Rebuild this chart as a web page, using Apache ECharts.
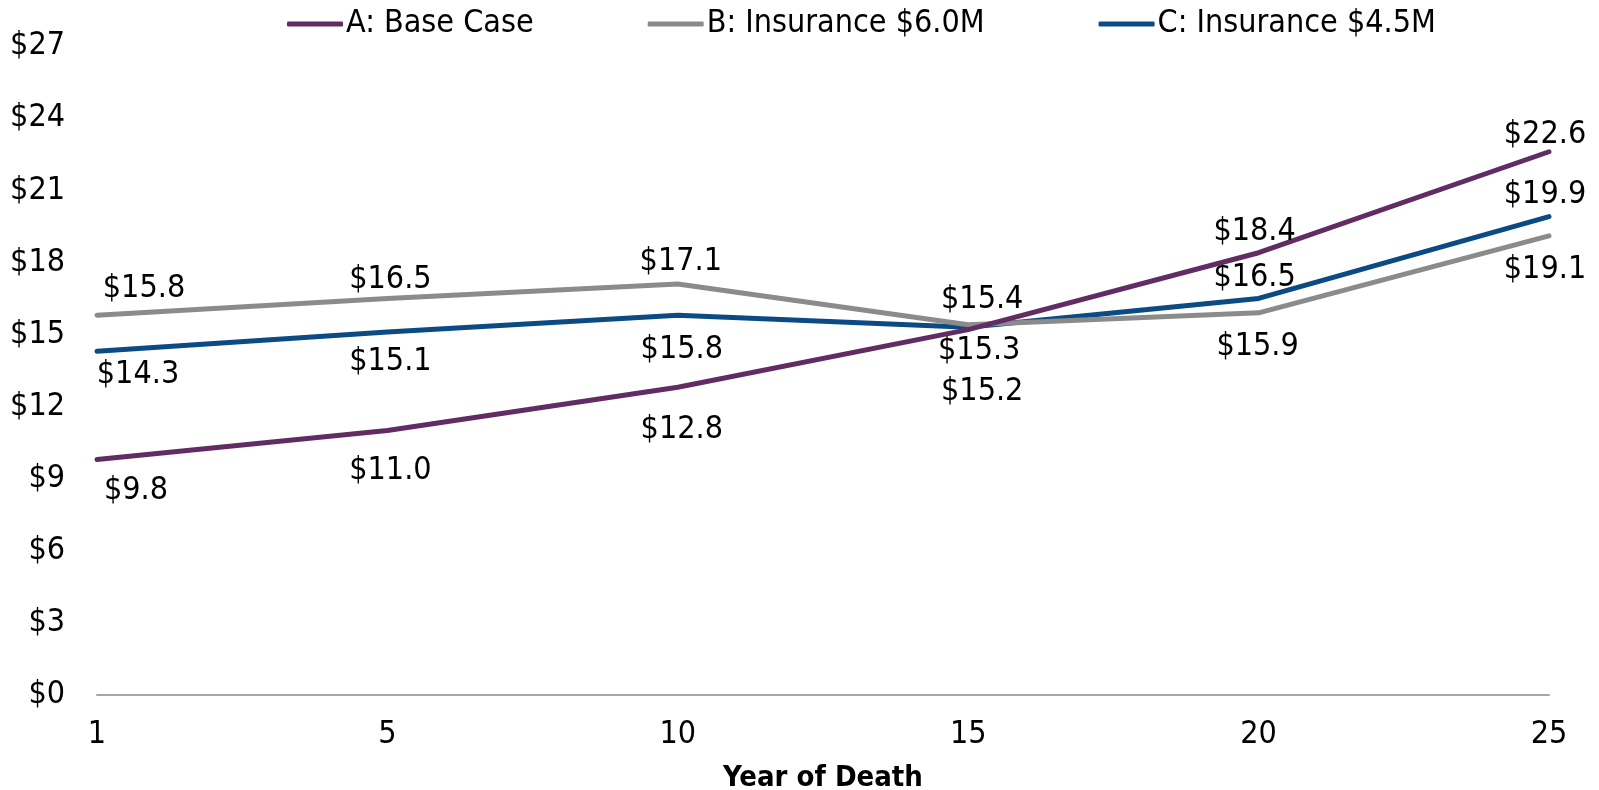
<!DOCTYPE html>
<html>
<head>
<meta charset="utf-8">
<title>Year of Death</title>
<script src="https://cdn.jsdelivr.net/npm/echarts@6/dist/echarts.min.js"></script>
<style>
  html, body { margin: 0; padding: 0; background: #fff; }
  #chart { width: 1599px; height: 790px; }
</style>
</head>
<body>
<div id="chart"></div>
<script>
// data
const years = ['1', '5', '10', '15', '20', '25']
const seriesNames = ['A: Base Case', 'B: Insurance $6.0M', 'C: Insurance $4.5M']
const baseCase = [9.8, 11.0, 12.8, 15.2, 18.4, 22.6]
const insurance60 = [15.8, 16.5, 17.1, 15.4, 15.9, 19.1]
const insurance45 = [14.3, 15.1, 15.8, 15.3, 16.5, 19.9]
const yTicks = { min: 0, max: 27, step: 3 }

// where each value label sits relative to its point [dx, dy]
const labelNudge = [
  [[39, 31], [3, 40], [4, 42], [14, 62], [-4, -21], [-4, -17]],
  [[47, -27], [3, -19], [3, -22], [14, -25], [-1, 34], [-4, 34]],
  [[41, 23], [3, 30], [4, 34], [11, 23], [-4, -21], [-4, -22]]
]
const colors = ['#612c63', '#8b8b8b', '#0b4a83']
const font = '"DejaVu Sans Condensed", "Liberation Sans", sans-serif'

const chart = echarts.init(document.getElementById('chart'))

function makeSeries(name, values, idx) {
  return {
    name: name,
    type: 'line',
    data: values.map((v, i) => ({
      value: v,
      label: { offset: labelNudge[idx][i] }
    })),
    symbol: 'circle',
    symbolSize: 1,
    showSymbol: true,
    lineStyle: { width: 5, color: colors[idx], cap: 'round' },
    itemStyle: { color: colors[idx] },
    label: {
      show: true,
      position: 'inside',
      color: '#000',
      fontFamily: font,
      fontSize: 32,
      formatter: p => '$' + p.value.toFixed(1)
    },
    emphasis: { disabled: true },
    z: 3 - idx
  }
}

const option = {
  animation: false,
  color: colors,
  textStyle: { fontFamily: font },
  legend: {
    top: 3,
    left: 282,
    itemWidth: 56,
    itemHeight: 5,
    itemGap: 114,
    icon: 'roundRect',
    textStyle: { fontSize: 32, color: '#000', fontFamily: font, padding: [0, 0, 0, -2] },
    data: seriesNames
  },
  grid: { left: 97, right: 50, top: 46, bottom: 95, containLabel: false, outerBoundsMode: 'none' },
  xAxis: {
    type: 'category',
    data: years,
    boundaryGap: false,
    axisTick: { show: false },
    axisLine: { lineStyle: { color: '#a6a6a6', width: 2 } },
    axisLabel: { color: '#000', fontSize: 32, fontFamily: font, margin: 24 },
    name: 'Year of Death',
    nameLocation: 'middle',
    nameGap: 69,
    nameTextStyle: { color: '#000', fontSize: 29, fontWeight: 'bold', fontFamily: font }
  },
  yAxis: {
    type: 'value',
    min: yTicks.min,
    max: yTicks.max,
    interval: yTicks.step,
    splitLine: { show: false },
    axisLine: { show: false },
    axisTick: { show: false },
    axisLabel: {
      color: '#000',
      fontSize: 32,
      fontFamily: font,
      margin: 32,
      formatter: v => '$' + v
    }
  },
  series: [
    makeSeries(seriesNames[0], baseCase, 0),
    makeSeries(seriesNames[1], insurance60, 1),
    makeSeries(seriesNames[2], insurance45, 2)
  ]
}

chart.setOption(option)
</script>
</body>
</html>
